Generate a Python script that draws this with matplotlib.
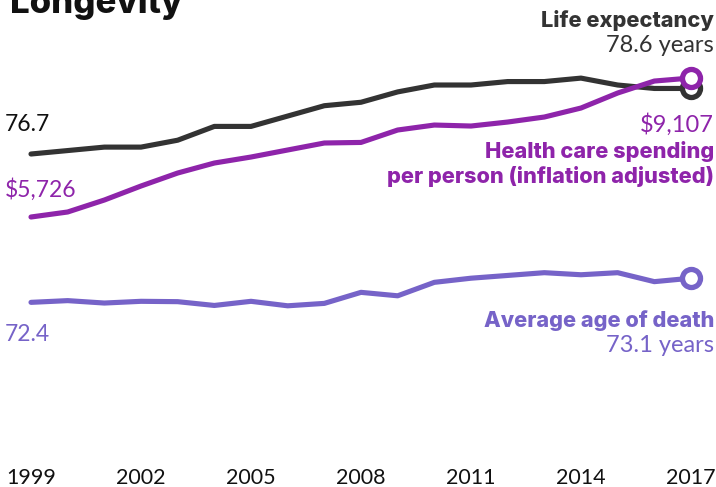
import matplotlib.pyplot as plt

plt.rcParams['font.family'] = ['Lato', 'DejaVu Sans']

years = list(range(1999, 2018))
life_expectancy = [76.7, 76.8, 76.9, 76.9, 77.1, 77.5, 77.5, 77.8, 78.1, 78.2,
                   78.5, 78.7, 78.7, 78.8, 78.8, 78.9, 78.7, 78.6, 78.6]
age_of_death = [72.4, 72.45, 72.38, 72.43, 72.42, 72.31, 72.43, 72.3, 72.37, 72.69,
                72.59, 72.98, 73.1, 73.18, 73.26, 73.2, 73.26, 73.0, 73.1]
spending = [5726, 5848, 6139, 6480, 6796, 7039, 7185, 7356, 7526, 7540,
            7842, 7963, 7939, 8036, 8158, 8377, 8742, 9033, 9107]
tick_years = [1999, 2002, 2005, 2008, 2011, 2014, 2017]

BLACK = '#333333'
PURPLE = '#8e24aa'
LAVENDER = '#7663c8'
BOLD_FONT = ['Inter', 'DejaVu Sans']

W, H = 716, 487
fig = plt.figure(figsize=(W / 100, H / 100), dpi=100)


def px(x, y):
    return x / W, 1 - y / H


ax = fig.add_axes([31 / W, 1 - 440 / H, 660 / W, 380 / H])
ax2 = ax.twinx()
ax.set_xlim(1999, 2017)
ax.set_ylim(68.41, 79.425)
ax2.set_ylim(302, 9545)
for a in (ax, ax2):
    a.axis('off')

line_kw = dict(lw=3.7, solid_capstyle='round', solid_joinstyle='round', clip_on=False)
end_kw = dict(marker='o', ms=13, mew=3.8, mfc='white', clip_on=False, zorder=5)

ax.plot(years, age_of_death, color=LAVENDER, **line_kw)
ax.plot(years[-1], age_of_death[-1], color=LAVENDER, **end_kw)
ax.plot(years, life_expectancy, color=BLACK, **line_kw)
ax.plot(years[-1], life_expectancy[-1], color=BLACK, **end_kw)
ax2.plot(years, spending, color=PURPLE, **line_kw)
ax2.plot(years[-1], spending[-1], color=PURPLE, **end_kw)

# year labels along the bottom
for yr in tick_years:
    x = 31 + (yr - 1999) * 660 / 18
    fig.text(*px(x, 484), str(yr), ha='center', va='baseline', fontsize=15.5,
             color='#111111')

fig.text(*px(10, 13), 'Longevity', ha='left', va='baseline', fontsize=25,
         fontweight=800, family=BOLD_FONT, color='#111111')

# start values
fig.text(*px(5, 131), f'{life_expectancy[0]:.1f}', ha='left', va='baseline',
         fontsize=16.5, color='#111111')
fig.text(*px(5, 197), f'${spending[0]:,}', ha='left', va='baseline',
         fontsize=16.5, color=PURPLE)
fig.text(*px(5, 341), f'{age_of_death[0]:.1f}', ha='left', va='baseline',
         fontsize=16.5, color=LAVENDER)

# end labels
bold_kw = dict(ha='right', va='baseline', fontsize=15.7, fontweight=800, family=BOLD_FONT)
value_kw = dict(ha='right', va='baseline', fontsize=17)
fig.text(*px(714, 27), 'Life expectancy', color=BLACK, **bold_kw)
fig.text(*px(714, 52), f'{life_expectancy[-1]:.1f} years', color=BLACK, **value_kw)
fig.text(*px(714, 132), f'${spending[-1]:,}', color=PURPLE, **value_kw)
fig.text(*px(714, 158), 'Health care spending', color=PURPLE, **bold_kw)
fig.text(*px(714, 183), 'per person (inflation adjusted)', color=PURPLE, **bold_kw)
fig.text(*px(714, 327), 'Average age of death', color=LAVENDER, **bold_kw)
fig.text(*px(714, 352), f'{age_of_death[-1]:.1f} years', color=LAVENDER, **value_kw)

fig.savefig('out.png', dpi=100)
